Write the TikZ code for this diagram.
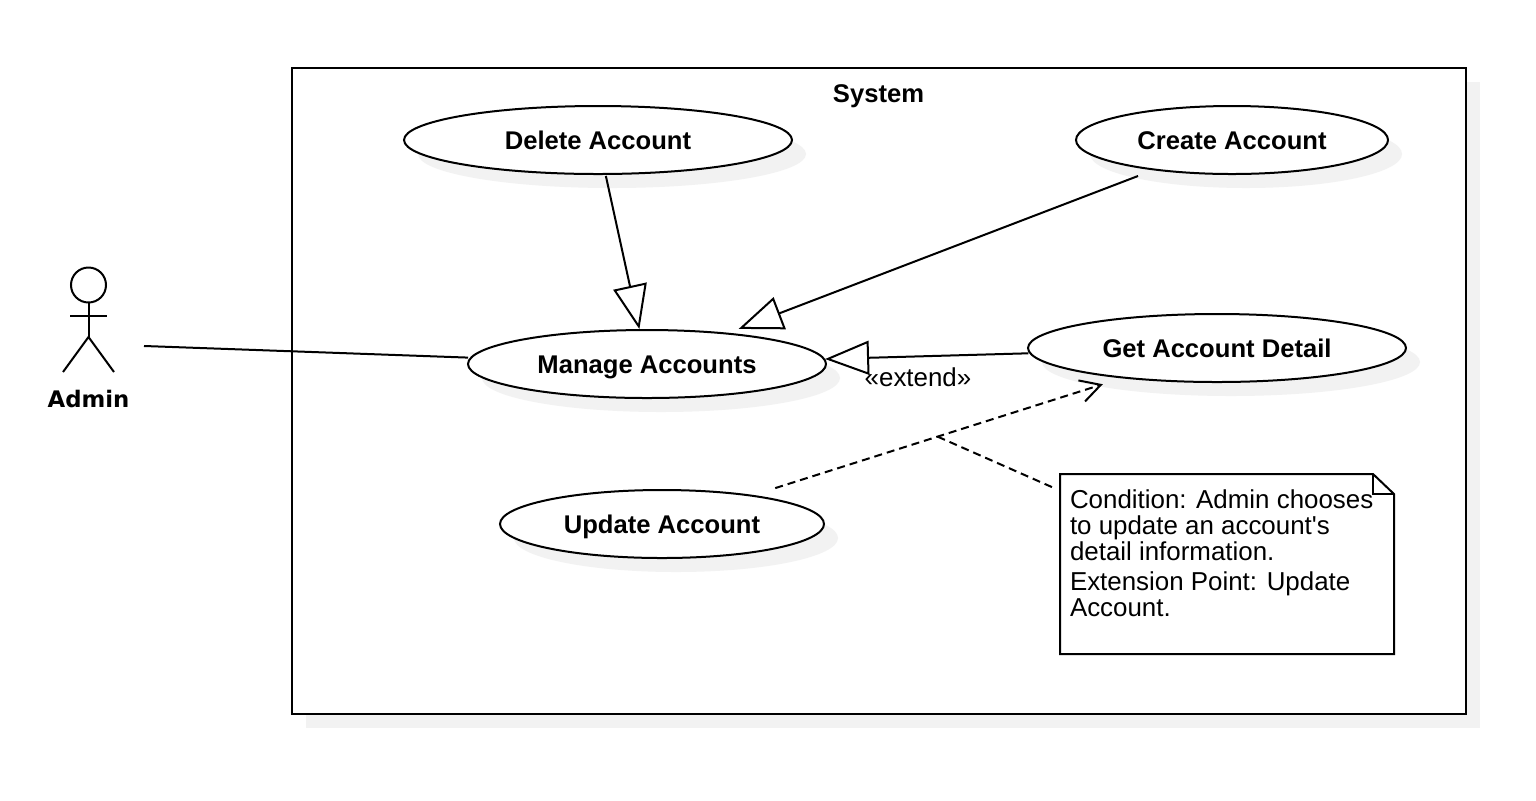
\documentclass[tikz,border=0pt]{standalone}
\usepackage{fontspec}
\setmainfont{Liberation Sans}
\newfontfamily\actorfont{DejaVu Sans}
\usetikzlibrary{positioning,arrows.meta,shapes.geometric,shadows}
\definecolor{shadowgrey}{HTML}{f2f2f2}
\tikzset{
    umlshadow/.style={drop shadow={shadow xshift=7pt,shadow yshift=-7pt,fill=shadowgrey,opacity=1}},
    usecase/.style={draw,ellipse,fill=white,umlshadow,inner sep=0pt,outer sep=0pt,minimum height=34pt,text height=9pt,text depth=0pt,font=\fontsize{12.8}{13}\selectfont\bfseries},
    plaintext/.style={inner sep=0pt,outer sep=0pt,font=\fontsize{12.95}{13}\selectfont},
    generalize/.style={-{Triangle[open,length=22pt,width=17pt]}},
    dashline/.style={dash pattern=on 4pt off 2.5pt},
}
\begin{document}
\begin{tikzpicture}[x=0.5pt,y=-0.5pt,line width=1pt]
        \useasboundingbox (0,0) rectangle (1536,800);

        % System boundary
        \node[draw,fill=white,umlshadow,inner sep=0pt,outer sep=0pt,minimum width=587pt,minimum height=323pt] (systemBox) at (879,391) {};
        \node[inner sep=0pt,outer sep=0pt,text height=9pt,text depth=0pt,font=\fontsize{12.8}{13}\selectfont\bfseries] (systemLabel) at (878.5,93) {System};

        % Use cases
        \foreach \name/\x/\y/\w/\txt in {deleteAcc/598/140/194/Delete Account, createAcc/1232/140/156/Create Account, manageAcc/647/364/179/Manage Accounts, getAcc/1217/348/189/Get Account Detail, updateAcc/662/524/162/Update Account}
        {
            \node[usecase,minimum width=\w pt] (\name) at (\x,\y) {\txt};
        }

        % Actor
        \node[draw,circle,inner sep=0pt,outer sep=0pt,minimum size=17.5pt] (adminHead) at (88.5,285) {};
        \draw (adminHead.south) -- (88.5,337);
        \draw (70,315.5) -- (107,315.5);
        \draw (63,372) -- (88.5,337) -- (114,372);
        \node[inner sep=0pt,font=\actorfont\fontsize{11.4}{13}\selectfont\bfseries] (adminLabel) at (88.5,399) {Admin};
        \node[inner sep=0pt,outer sep=0pt,minimum width=55.5pt,minimum height=52pt] (adminBox) at (88.5,344) {};

        % Note
        \node[inner sep=0pt,outer sep=0pt,minimum width=167pt,minimum height=90pt] (noteBox) at (1227,564) {};
        \draw[fill=white] (noteBox.north west) -- ([xshift=-10.5pt]noteBox.north east) -- ([yshift=-10pt]noteBox.north east) -- (noteBox.south east) -- (noteBox.south west) -- cycle;
        \draw ([xshift=-10.5pt]noteBox.north east) -- ([xshift=-10.5pt,yshift=-10pt]noteBox.north east) -- ([yshift=-10pt]noteBox.north east);
        \node[plaintext,anchor=north west,align=left,xshift=5pt,yshift=-8pt] (noteText) at (noteBox.north west) {Condition: Admin chooses\\to update an account\textquotesingle s\\detail information.\\[2pt]Extension Point: Update\\Account.};

        % Connectors
        \draw[shorten >=1.5pt] (adminBox) -- (manageAcc);
        \draw[generalize,shorten <=1pt,shorten >=0.5pt] (deleteAcc) -- (manageAcc);
        \draw[generalize,shorten <=9pt,shorten >=6.5pt] (createAcc) -- (manageAcc);
        \draw[generalize,shorten <=1pt,shorten >=0.5pt] (getAcc) -- (manageAcc);
        \node[plaintext] (extendLabel) at (918,377) {«extend»};
        \draw[dashline,-{Straight Barb[length=10pt,width=11pt]},shorten <=12.5pt,shorten >=11pt] (updateAcc) -- coordinate[midway] (extendPoint) (getAcc);
        \draw[dashline,shorten >=2pt] (extendPoint) -- (noteBox);
\end{tikzpicture}
\end{document}
